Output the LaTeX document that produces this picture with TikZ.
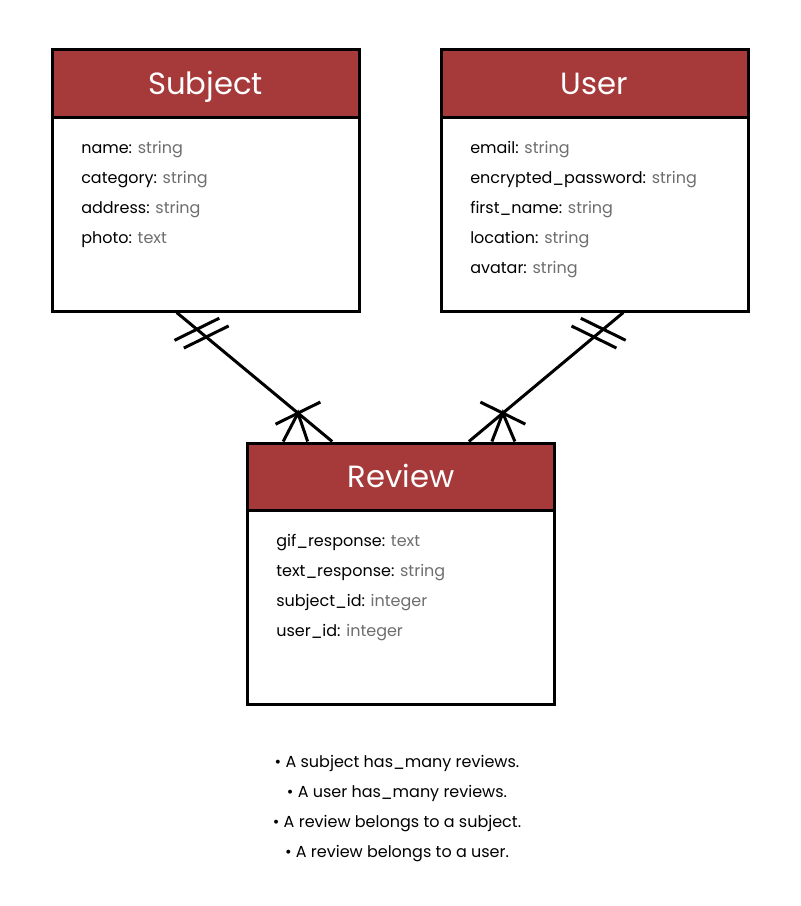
\documentclass[tikz,border=0pt]{standalone}
\usepackage{fontspec}
\setmainfont{Poppins}
\usetikzlibrary{calc, positioning}
\definecolor{cHead}{RGB}{166,58,58}
\definecolor{cType}{RGB}{110,110,110}
\newcommand{\attr}[2]{#1: {\color{cType}#2}}
% one-to-many link: #1 one end, #2 many end, #3 spacing of the foot, #4 tilt of the bars
\newcommand{\erlink}[4]{%
  \draw[link] (#1) -- (#2);
  \foreach \p in {0.13,0.19}
    \draw[link] ($(#1)!\p!(#2)!18.75pt!#4:(#2)$) -- ($(#1)!\p!(#2)!-18.75pt!#4:(#2)$);
  \coordinate (#1j) at ($(#1)!0.78!(#2)$);
  \draw[link] ($(#1j)!18.75pt!#4:(#2)$) -- ($(#1j)!-18.75pt!#4:(#2)$);
  \draw[link] ($(#2)+(#3,0)$) -- (#1j) -- ($(#2)+(2*#3,0)$);
}

\begin{document}
\begin{tikzpicture}[x=0.75pt, y=-0.75pt,
    head/.style={draw, line width=2.25pt, fill=cHead, text=white,
                 font=\fontsize{23}{27}\selectfont, inner sep=0pt,
                 text height=16pt, text depth=0pt,
                 minimum width=230.25pt, minimum height=50.25pt},
    body/.style={draw, line width=2.25pt, fill=white, inner sep=0pt,
                 minimum width=230.25pt, minimum height=145.5pt},
    attrs/.style={anchor=north west, align=left, inner sep=0pt,
                  font=\fontsize{12}{22.5}\selectfont},
    link/.style={line width=2.25pt}]
  \useasboundingbox (0,0) rectangle (800,906);

  % entities
  \node[body] (subjectbody) at (205.5,214) {};
  \node[head] (subject) at (205.5,83.5) {Subject};
  \node[body] (userbody) at (594.5,214) {};
  \node[head] (user) at (594.5,83.5) {User};
  \node[body] (reviewbody) at (401,607) {};
  \node[head] (review) at (401,476.5) {Review};

  % attributes
  \node[attrs] (subjectattrs) at (81,141) {\attr{name}{string}\\ \attr{category}{string}\\
    \attr{address}{string}\\ \attr{photo}{text}};
  \node[attrs] (userattrs) at (470,141) {\attr{email}{string}\\ \attr{encrypted\_password}{string}\\
    \attr{first\_name}{string}\\ \attr{location}{string}\\ \attr{avatar}{string}};
  \node[attrs] (reviewattrs) at (276,534) {\attr{gif\_response}{text}\\ \attr{text\_response}{string}\\
    \attr{subject\_id}{integer}\\ \attr{user\_id}{integer}};

  % relations
  \coordinate (s) at ($(subjectbody.south west)!0.407!(subjectbody.south east)$);
  \coordinate (sr) at ($(review.north west)!0.278!(review.north east)$);
  \coordinate (u) at ($(userbody.south west)!0.593!(userbody.south east)$);
  \coordinate (ur) at ($(review.north west)!0.719!(review.north east)$);
  \erlink{s}{sr}{-24.5}{66}
  \erlink{u}{ur}{23}{-66}

  % notes
  \node[anchor=north, align=center, inner sep=0pt, font=\fontsize{12}{22.5}\selectfont]
    (notes) at (397,755) {• A subject has\_many reviews.\\ • A user has\_many reviews.\\
    • A review belongs to a subject.\\ • A review belongs to a user.};
\end{tikzpicture}
\end{document}
